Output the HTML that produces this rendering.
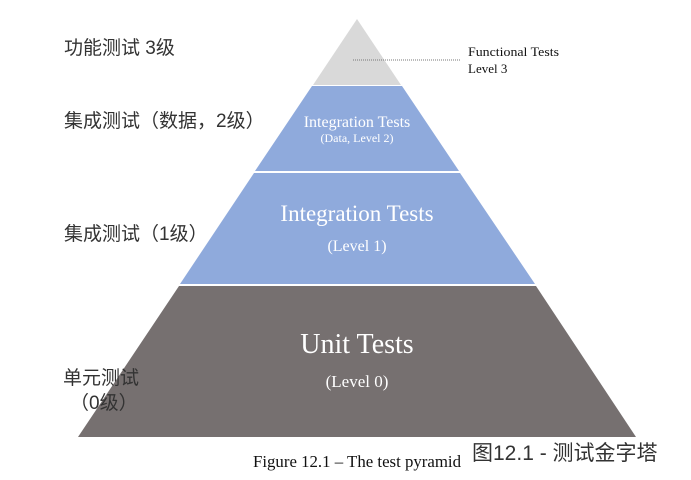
<!DOCTYPE html>
<html><head><meta charset="utf-8"><style>
body{margin:0;width:691px;height:480px;background:#fff;overflow:hidden;position:relative}
svg{position:absolute;left:0;top:0}
.cn{font-family:"Liberation Sans","Noto Sans CJK SC",sans-serif;fill:#333}
.sf{font-family:"Liberation Serif",serif}
</style></head><body>
<svg width="691" height="480" viewBox="0 0 691 480">
<polygon points="357,19 313,85 401,85" fill="#d9d9d9"/>
<polygon points="312,86 402,86 459,171 255,171" fill="#8faadc"/>
<polygon points="254,173 460,173 535,284 180,284" fill="#8faadc"/>
<polygon points="179,286 536,286 636,437 78,437" fill="#767070"/>
<line x1="353" y1="60" x2="461" y2="60" stroke="#777" stroke-width="1" stroke-dasharray="1,1"/>
<text x="468" y="56" class="sf" font-size="13" fill="#111" textLength="91" lengthAdjust="spacingAndGlyphs">Functional Tests</text>
<text x="468" y="73" class="sf" font-size="13" fill="#111">Level 3</text>
<text x="357" y="127" class="sf" font-size="16" fill="#fff" text-anchor="middle">Integration Tests</text>
<text x="357" y="142" class="sf" font-size="12" fill="#fff" text-anchor="middle">(Data, Level 2)</text>
<text x="357" y="221" class="sf" font-size="23" fill="#fff" text-anchor="middle">Integration Tests</text>
<text x="357" y="251" class="sf" font-size="16" fill="#fff" text-anchor="middle">(Level 1)</text>
<text x="357" y="353" class="sf" font-size="28" fill="#fff" text-anchor="middle">Unit Tests</text>
<text x="357" y="387" class="sf" font-size="17" fill="#fff" text-anchor="middle">(Level 0)</text>
<text x="64" y="54" class="cn" font-size="19">功能测试 3级</text>
<text x="64" y="127" class="cn" font-size="19">集成测试（数据，2级）</text>
<text x="64" y="240" class="cn" font-size="19">集成测试（1级）</text>
<text x="63" y="384" class="cn" font-size="19">单元测试</text>
<text x="70" y="409" class="cn" font-size="19">（0级）</text>
<text x="253" y="467" class="sf" font-size="17" fill="#111" textLength="208" lengthAdjust="spacingAndGlyphs">Figure 12.1 – The test pyramid</text>
<text x="472" y="460" class="cn" font-size="21">图12.1 - 测试金字塔</text>
</svg>
</body></html>
